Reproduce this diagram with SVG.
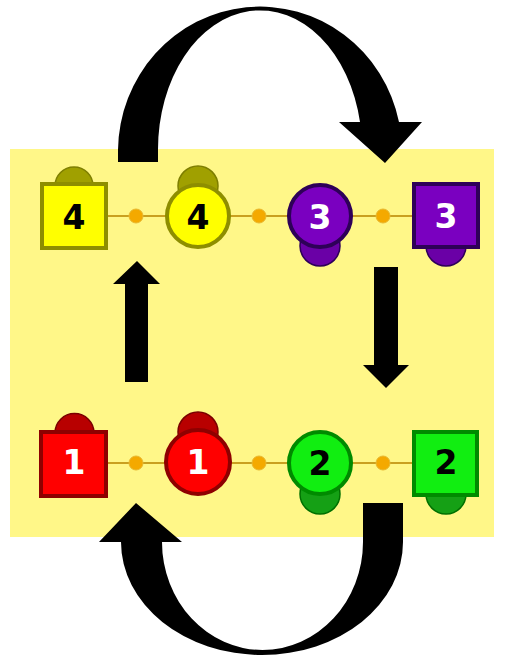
<svg xmlns="http://www.w3.org/2000/svg" width="505" height="658" viewBox="0 0 505 658">
<style>
.lbl{font-family:"DejaVu Sans","Verdana",sans-serif;font-weight:bold;font-size:33px;text-anchor:middle;dominant-baseline:central}
.dk{fill:#000}
.wt{fill:#fff}
.dot{fill:#F4A900;stroke:#E8B830;stroke-width:1}
.link{stroke:#C9A020;stroke-width:2;fill:none}
.arrow{fill:#000}
.y-body{fill:#FFFF00;stroke:#8E8E00;stroke-width:4}
.y-bump{fill:#A0A000;stroke:#7E7E00;stroke-width:1.5}
.r-body{fill:#FF0000;stroke:#8E0000;stroke-width:4}
.r-bump{fill:#B80000;stroke:#7A0000;stroke-width:1.5}
.p-body{fill:#7A00C0;stroke:#2E0058;stroke-width:4}
.p-bump{fill:#6A00A6;stroke:#2E0058;stroke-width:1.5}
.g-body{fill:#11EE11;stroke:#008A00;stroke-width:4}
.g-bump{fill:#15A015;stroke:#007000;stroke-width:1.5}
</style>
<rect x="0" y="0" width="505" height="658" fill="#FFFFFF"/>
<rect x="10" y="149" width="484" height="388" fill="#FFF788"/>
<g id="connectors">
<line class="link" x1="108" y1="216" x2="412" y2="216"/>
<line class="link" x1="108" y1="463" x2="412" y2="463"/>
<circle class="dot" cx="136" cy="216" r="7"/>
<circle class="dot" cx="259" cy="216" r="7"/>
<circle class="dot" cx="383" cy="216" r="7"/>
<circle class="dot" cx="136" cy="463" r="7"/>
<circle class="dot" cx="259" cy="463" r="7"/>
<circle class="dot" cx="383" cy="463" r="7"/>
<path class="arrow" d="M118,162 L118,150 A142,145 0 0 1 399,122 L422,122 L385,163 L339,122 L360,122 A102,139 0 0 0 158,150 L158,162 Z"/>
<path class="arrow" d="M363,503 L403,503 L403,542 A141,113 0 0 1 121,542 L99,542 L136,503 L182,542 L162,542 A100.5,108 0 0 0 363,542 Z"/>
<path class="arrow" d="M125,382 L148,382 L148,284 L160,284 L137,261 L113,284 L125,284 Z"/>
<path class="arrow" d="M374,267 L398,267 L398,365 L409,365 L386,388 L363,365 L374,365 Z"/>
</g>
<g id="node-4-square">
<path class="y-bump" d="M55,186 A19,19 0 0 1 93,186 Z"/>
<rect class="y-body" x="42" y="184" width="64" height="64"/>
<text class="lbl dk" x="74" y="217">4</text>
</g>
<g id="node-4-circle">
<circle class="y-bump" cx="198" cy="186" r="20"/>
<circle class="y-body" cx="198" cy="216" r="31"/>
<text class="lbl dk" x="198" y="217">4</text>
</g>
<g id="node-3-circle">
<circle class="p-bump" cx="320" cy="246" r="20"/>
<circle class="p-body" cx="320" cy="216" r="31"/>
<text class="lbl wt" x="320" y="217">3</text>
</g>
<g id="node-3-square">
<path class="p-bump" d="M426,246 A20,20 0 0 0 466,246 Z"/>
<rect class="p-body" x="414" y="184" width="64" height="63"/>
<text class="lbl wt" x="446" y="216">3</text>
</g>
<g id="node-1-square">
<path class="r-bump" d="M55,433 A19.5,19.5 0 0 1 94,433 Z"/>
<rect class="r-body" x="41" y="432" width="65" height="64"/>
<text class="lbl wt" x="74" y="462">1</text>
</g>
<g id="node-1-circle">
<circle class="r-bump" cx="198" cy="432" r="20"/>
<circle class="r-body" cx="198" cy="462" r="32"/>
<text class="lbl wt" x="198" y="462">1</text>
</g>
<g id="node-2-circle">
<circle class="g-bump" cx="320" cy="494" r="20"/>
<circle class="g-body" cx="320" cy="463" r="31"/>
<text class="lbl dk" x="320" y="463">2</text>
</g>
<g id="node-2-square">
<path class="g-bump" d="M426,494 A20,20 0 0 0 466,494 Z"/>
<rect class="g-body" x="414" y="432" width="63" height="63"/>
<text class="lbl dk" x="446" y="462">2</text>
</g>
</svg>
